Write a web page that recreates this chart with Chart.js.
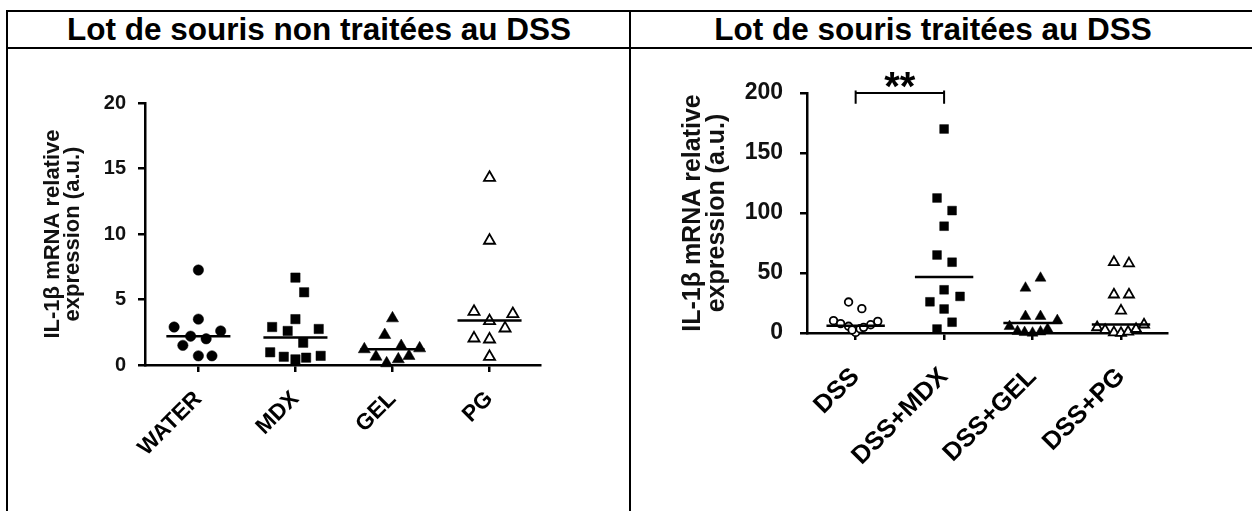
<!DOCTYPE html>
<html>
<head>
<meta charset="utf-8">
<script src="https://cdn.jsdelivr.net/npm/chart.js@4.4.0/dist/chart.umd.min.js"></script>
<style>
  body { margin: 0; background: #fff; width: 1252px; height: 511px; overflow: hidden; position: relative; font-family: "Liberation Sans", Arial, sans-serif; }
  .line { position: absolute; background: #000; }
  .head { position: absolute; top: 11px; font-weight: bold; font-size: 31.5px; line-height: 36px; white-space: nowrap; color: #000; transform: translateX(-50%); }
  canvas { position: absolute; }
</style>
</head>
<body>
<div class="line" style="left:6px;top:10px;width:2px;height:501px"></div>
<div class="line" style="left:6px;top:10px;width:1246px;height:2px"></div>
<div class="line" style="left:629px;top:10px;width:2px;height:501px"></div>
<div class="line" style="left:6px;top:47px;width:1246px;height:2px"></div>
<div class="head" style="left:319px">Lot de souris non traitées au DSS</div>
<div class="head" style="left:933px">Lot de souris traitées au DSS</div>
<canvas id="leftChart" style="left:8px;top:50px" width="621" height="461"></canvas>
<canvas id="rightChart" style="left:632px;top:50px" width="620" height="461"></canvas>
<script>
// --- left panel: mice not treated with DSS ---
const leftLabels = ['WATER', 'MDX', 'GEL', 'PG'];
const waterVals = [7.25, 2.9, 3.5, 2.6, 2.2, 2.0, 1.5, 0.7, 0.7];
const waterSpread = [0, -0.25, 0, 0.23, -0.08, 0.08, -0.16, 0, 0.14];
const mdxVals = [6.67, 5.55, 3.5, 2.9, 2.6, 2.75, 1.7, 0.97, 0.63, 0.43, 0.56, 0.7];
const mdxSpread = [0, 0.09, 0, -0.24, -0.08, 0.24, 0.08, -0.26, -0.12, 0, 0.11, 0.26];
const gelVals = [3.56, 2.29, 1.2, 1.45, 1.27, 0.63, 0.13, 0.43, 0.69];
const gelSpread = [0, -0.08, -0.29, 0.09, 0.28, -0.17, -0.06, 0.06, 0.17];
const pgVals = [14.3, 9.5, 4.07, 3.9, 3.36, 2.8, 2.04, 1.96, 0.63];
const pgSpread = [0, 0, -0.16, 0.24, 0, 0.16, -0.16, 0, 0];
const leftCenters = [2.2, 2.1, 1.2, 3.4];
const leftTicks = [0, 5, 10, 15, 20];

// --- right panel: mice treated with DSS ---
const rightLabels = ['DSS', 'DSS+MDX', 'DSS+GEL', 'DSS+PG'];
const dssVals = [25.8, 20.3, 10.3, 7.8, 5.6, 0.5, 2.5, 3.5, 4.7, 6.9, 9.7];
const dssSpread = [-0.08, 0.07, -0.25, -0.17, -0.08, 0, -0.04, 0.05, 0.09, 0.17, 0.25];
const dssMdxVals = [170, 112.5, 102, 89, 65, 59, 36, 26, 30.5, 20, 9, 3.3];
const dssMdxSpread = [0, -0.08, 0.09, 0, -0.08, 0.09, 0, -0.16, 0.18, 0, 0.09, -0.08];
const dssGelVals = [45.8, 37.5, 13.9, 13.9, 10.5, 5.5, 1.4, 0.5, 0, 1, 3.3];
const dssGelSpread = [0.09, -0.08, -0.08, 0.09, 0.28, -0.26, -0.17, -0.09, 0, 0.09, 0.17];
const dssPgVals = [59, 58, 32, 32, 18.6, 4.7, 2.5, 0.5, 0, 1, 3.3, 7];
const dssPgSpread = [-0.08, 0.09, -0.08, 0.09, 0, -0.27, -0.18, -0.08, 0, 0.08, 0.17, 0.26];
const rightCenters = [6, 46.7, 8.3, 7];
const rightTicks = [0, 50, 100, 150, 200];
const sigPair = [0, 1];
const sigLevel = 200;
const sigCaps = [191, 202];
const sigText = '**';

const FONT = '"Liberation Sans", Arial, sans-serif';

function groupSet(vals, spread, i, style) {
    return {
        type: 'scatter',
        data: vals.map((v, k) => ({ x: i + spread[k], y: v })),
        pointStyle: style.shape,
        pointRadius: style.r,
        pointHoverRadius: style.r,
        pointBackgroundColor: style.open ? '#fff' : '#000',
        pointBorderColor: '#000',
        pointBorderWidth: style.open ? 1.8 : 0.5,
        clip: false,
        order: 2
    };
}

function centerSet(value, i) {
    return {
        type: 'line',
        data: [{ x: i - 0.33, y: value }, { x: i + 0.33, y: value }],
        borderColor: '#000',
        borderWidth: 2.5,
        pointRadius: 0,
        clip: false,
        order: 1
    };
}

function makeChart(id, cfg) {
    const sets = [];
    cfg.groups.forEach((g, i) => sets.push(groupSet(g.vals, g.spread, i, g.style)));
    cfg.centers.forEach((c, i) => sets.push(centerSet(c, i)));
    if (cfg.extra) sets.push(...cfg.extra);

    return new Chart(document.getElementById(id), {
        type: 'scatter',
        data: { datasets: sets },
        options: {
            responsive: false,
            animation: false,
            layout: { padding: { left: 0, right: cfg.padRight, top: cfg.padTop, bottom: 0 } },
            plugins: { legend: { display: false }, tooltip: { enabled: false } },
            scales: {
                x: {
                    type: 'linear',
                    min: -0.55,
                    max: 3.52,
                    afterBuildTicks: s => { s.ticks = cfg.labels.map((_, i) => ({ value: i })); },
                    afterFit: s => { s.height = cfg.xHeight; },
                    ticks: {
                        autoSkip: false,
                        maxRotation: 45,
                        minRotation: 45,
                        padding: cfg.xPad,
                        color: '#000',
                        font: { family: FONT, weight: 'bold', size: cfg.xFont },
                        callback: v => cfg.labels[Math.round(v)]
                    },
                    grid: { drawOnChartArea: false, drawTicks: true, tickLength: 7, color: '#000', lineWidth: 2.5 },
                    border: { display: true, color: '#000', width: 2.5 }
                },
                y: {
                    min: cfg.yTicks[0],
                    max: cfg.yTicks[cfg.yTicks.length - 1],
                    afterBuildTicks: s => { s.ticks = cfg.yTicks.map(v => ({ value: v })); },
                    afterFit: s => { s.width = cfg.yWidth; },
                    ticks: {
                        padding: cfg.yPad,
                        color: '#111',
                        font: { family: FONT, weight: 'bold', size: cfg.yFont }
                    },
                    grid: { drawOnChartArea: false, drawTicks: true, tickLength: 7, color: '#000', lineWidth: 2.5 },
                    border: { display: true, color: '#000', width: 2.5 },
                    title: {
                        display: true,
                        text: ['IL-1\u03b2 mRNA relative', 'expression (a.u.)'],
                        color: '#111',
                        font: { family: FONT, weight: 'bold', size: cfg.titleFont, lineHeight: cfg.titleLH },
                        padding: { top: cfg.titlePad, bottom: 0 }
                    }
                }
            }
        },
        plugins: cfg.plugins || []
    });
}

// left chart
makeChart('leftChart', {
    labels: leftLabels,
    groups: [
        { vals: waterVals, spread: waterSpread, style: { shape: 'circle', r: 5.2 } },
        { vals: mdxVals, spread: mdxSpread, style: { shape: 'rect', r: 6.6 } },
        { vals: gelVals, spread: gelSpread, style: { shape: 'triangle', r: 7 } },
        { vals: pgVals, spread: pgSpread, style: { shape: 'triangle', r: 6.4, open: true } }
    ],
    centers: leftCenters,
    yTicks: leftTicks,
    padRight: 89, padTop: 53, xHeight: 146, yWidth: 137,
    xFont: 22.5, yFont: 20, xPad: 14, yPad: 12,
    titleFont: 22, titleLH: 0.92, titlePad: 35
});

// significance bracket between DSS and DSS+MDX
const bracket = {
    type: 'line',
    data: [
        { x: sigPair[0], y: sigCaps[0] }, { x: sigPair[0], y: sigCaps[1] },
        { x: sigPair[0], y: sigLevel }, { x: sigPair[1], y: sigLevel },
        { x: sigPair[1], y: sigCaps[1] }, { x: sigPair[1], y: sigCaps[0] }
    ],
    borderColor: '#000',
    borderWidth: 2,
    pointRadius: 0,
    clip: false,
    order: 0
};

const starPlugin = {
    id: 'stars',
    afterDatasetsDraw(chart) {
        const xs = chart.scales.x, ys = chart.scales.y, ctx = chart.ctx;
        const x = (xs.getPixelForValue(sigPair[0]) + xs.getPixelForValue(sigPair[1])) / 2;
        const y = ys.getPixelForValue(sigLevel);
        ctx.save();
        ctx.fillStyle = '#000';
        ctx.font = 'bold 40px ' + FONT;
        ctx.textAlign = 'center';
        ctx.textBaseline = 'alphabetic';
        ctx.fillText(sigText, x, y + 7);
        ctx.restore();
    }
};

// right chart
makeChart('rightChart', {
    labels: rightLabels,
    groups: [
        { vals: dssVals, spread: dssSpread, style: { shape: 'circle', r: 3.8, open: true } },
        { vals: dssMdxVals, spread: dssMdxSpread, style: { shape: 'rect', r: 6.2 } },
        { vals: dssGelVals, spread: dssGelSpread, style: { shape: 'triangle', r: 6.3 } },
        { vals: dssPgVals, spread: dssPgSpread, style: { shape: 'triangle', r: 5.8, open: true } }
    ],
    centers: rightCenters,
    extra: [bracket],
    yTicks: rightTicks,
    padRight: 85, padTop: 43, xHeight: 178, yWidth: 175,
    xFont: 25.5, yFont: 23, xPad: 22, yPad: 17,
    titleFont: 25, titleLH: 0.96, titlePad: 49,
    plugins: [starPlugin]
});
</script>
</body>
</html>
